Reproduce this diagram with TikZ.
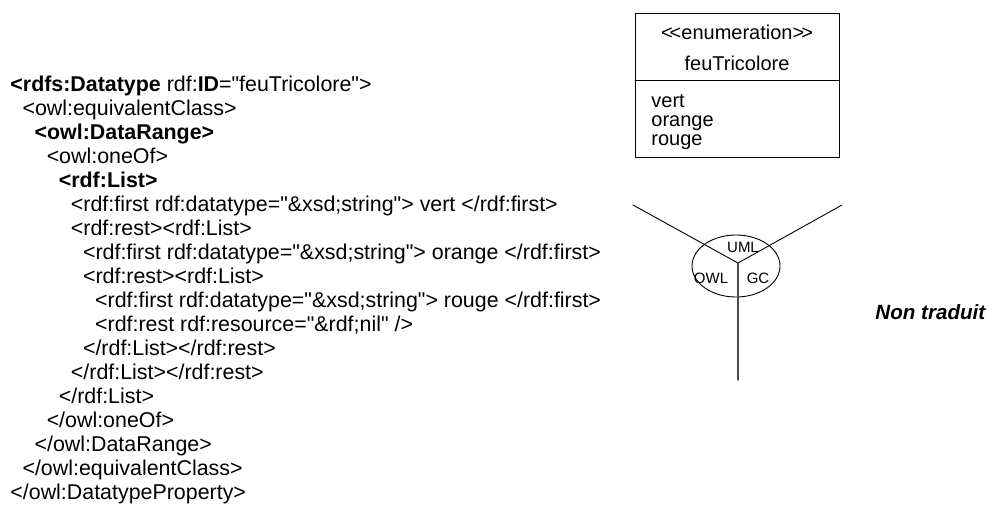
\documentclass[tikz,border=0pt]{standalone}
\usepackage{fontspec}
\newfontfamily\arial{Liberation Sans}
\begin{document}
\begin{tikzpicture}[line cap=round,line join=round,x=1pt,y=-1pt,line width=0.9pt,
  code/.style={anchor=base west,inner sep=0pt,font=\arial\fontsize{21.4}{24}\selectfont},
  enum/.style={inner sep=0pt,font=\arial\fontsize{20}{22}\selectfont},
  tri/.style={inner sep=0pt,font=\arial\fontsize{15}{17}\selectfont}]
\useasboundingbox (0,0) rectangle (989,504);
% XML code
\node[code] (l1) at (10,91.7) {\textbf{<rdfs:Datatype} rdf:\textbf{ID}="feuTricolore">};
\node[code] (l2) at (22.1,115.7) {<owl:equivalentClass>};
\node[code] (l3) at (34.2,139.7) {\textbf{<owl:DataRange>}};
\node[code] (l4) at (46.3,163.7) {<owl:oneOf>};
\node[code] (l5) at (58.4,187.7) {\textbf{<rdf:List>}};
\node[code] (l6) at (70.5,211.7) {<rdf:first rdf:datatype="\&xsd;string"> vert </rdf:first>};
\node[code] (l7) at (70.5,235.7) {<rdf:rest><rdf:List>};
\node[code] (l8) at (82.6,259.7) {<rdf:first rdf:datatype="\&xsd;string"> orange </rdf:first>};
\node[code] (l9) at (82.6,283.7) {<rdf:rest><rdf:List>};
\node[code] (l10) at (94.7,307.7) {<rdf:first rdf:datatype="\&xsd;string"> rouge </rdf:first>};
\node[code] (l11) at (94.7,331.7) {<rdf:rest rdf:resource="\&rdf;nil" />};
\node[code] (l12) at (82.6,355.7) {</rdf:List></rdf:rest>};
\node[code] (l13) at (70.5,379.7) {</rdf:List></rdf:rest>};
\node[code] (l14) at (58.4,403.7) {</rdf:List>};
\node[code] (l15) at (46.3,427.7) {</owl:oneOf>};
\node[code] (l16) at (34.2,451.7) {</owl:DataRange>};
\node[code] (l17) at (22.1,475.7) {</owl:equivalentClass>};
\node[code] (l18) at (10,499.7) {</owl:DatatypeProperty>};
% UML enumeration
\draw (635,13) rectangle (839,157);
\draw (635,80) -- (839,80);
\node[enum] (stereo) at (737,32) {<\kern-3pt<enumeration>\kern-3pt>};
\node[enum] (feu) at (737,63) {feuTricolore};
\node[enum,anchor=base west] (vert) at (651,107) {vert};
\node[enum,anchor=base west] (orange) at (651,126) {orange};
\node[enum,anchor=base west] (rouge) at (651,145) {rouge};
% tri-ellipse
\coordinate (hub) at (738,263);
\coordinate (armA) at (633,205);
\coordinate (armB) at (842,205);
\coordinate (armC) at (738,380);
\draw (736,266) ellipse [x radius=44pt, y radius=31pt];
\draw (armA) -- (hub) -- (armB);
\draw [black!70,line width=1.3pt] (hub) -- (armC);
\node[tri] (uml) at (743,247) {UML};
\node[tri] (owl) at (711,278) {OWL};
\node[tri] (gc) at (758,278) {GC};
\node[anchor=west,inner sep=0pt,font=\arial\fontsize{20.6}{24}\selectfont\bfseries\itshape] (nt) at (875,312) {Non traduit};
\end{tikzpicture}
\end{document}
